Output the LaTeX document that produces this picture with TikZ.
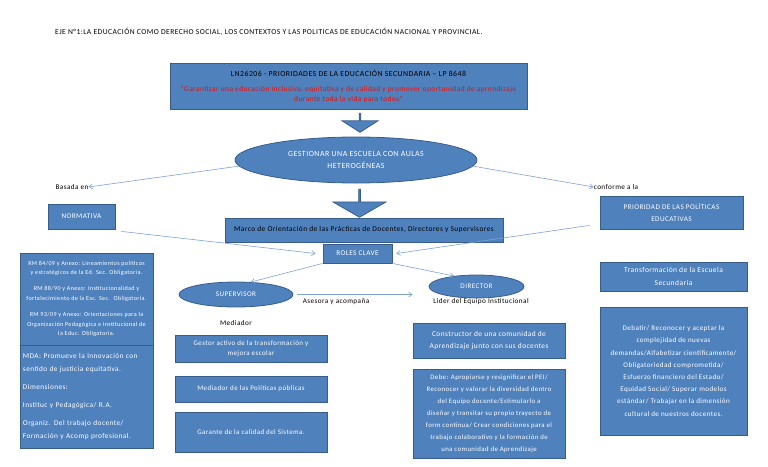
\documentclass[tikz,border=0pt]{standalone}
\usepackage{fontspec}
\setmainfont{Carlito}[LetterSpace=6]
\usetikzlibrary{shapes.geometric, shapes.arrows, arrows.meta}

\definecolor{boxblue}{HTML}{4F81BD}
\definecolor{boxedge}{HTML}{385D8A}
\definecolor{linkblue}{HTML}{7FA2D6}
\definecolor{quotered}{HTML}{E01010}

\begin{document}
\begin{tikzpicture}[x=1pt, y=-1pt,
  box/.style={rectangle, draw=boxedge, fill=boxblue, line width=0.8pt, text=white,
    align=center, inner sep=1pt, font=\fontsize{6.8}{12}\selectfont},
  oval/.style={ellipse, draw=boxedge, fill=boxblue, line width=0.8pt, text=white,
    align=center, inner sep=0pt, font=\fontsize{7.1}{12}\selectfont},
  bigarrow/.style={single arrow, shape border rotate=270, draw=boxedge, fill=boxblue,
    line width=0.8pt, inner sep=0pt},
  note/.style={font=\fontsize{7.2}{9}\selectfont, inner sep=0pt},
  link/.style={draw=linkblue, line width=0.6pt, -{Straight Barb[length=3.5pt,width=5pt]}}]
  \useasboundingbox (0,0) rectangle (768,466);

  \node[note, anchor=west, font=\fontsize{7.6}{9}\selectfont] (title) at (55,32)
    {EJE N°1:LA EDUCACIÓN COMO DERECHO SOCIAL, LOS CONTEXTOS Y LAS POLITICAS DE EDUCACIÓN NACIONAL Y PROVINCIAL.};

  \node[box, minimum width=357, minimum height=46, text=black, font=\fontsize{7.8}{10}\selectfont] (ley) at (348.5,86)
    {LN26206 - PRIORIDADES DE LA EDUCACIÓN SECUNDARIA – LP 8648\\[5pt]
     \color{quotered}\fontsize{7.4}{10}\selectfont “Garantizar una educación inclusiva, equitativa y de calidad y promover oportunidad de aprendizaje\\
     \color{quotered}\fontsize{7.4}{10}\selectfont durante toda la vida para todos”};
  \node[bigarrow, minimum width=36, minimum height=19, single arrow head extend=8.5,
    single arrow tip angle=115] (arrowA) at (360,122.5) {};
  \node[oval, minimum width=242, minimum height=46, font=\fontsize{7.9}{12}\selectfont] (gest) at (356,160)
    {GESTIONAR UNA ESCUELA CON AULAS\\HETEROGÉNEAS};
  \node[bigarrow, minimum width=53, minimum height=28, single arrow head extend=12,
    single arrow tip angle=120] (arrowB) at (359.5,203) {};

  \node[note] (basada) at (72,187) {Basada en};
  \node[note] (conforme) at (616,187) {conforme a la};
  \node[box, minimum width=67, minimum height=25, font=\fontsize{7.2}{9}\selectfont] (norm) at (81.5,216.5) {NORMATIVA};
  \node[box, minimum width=143, minimum height=33, font=\fontsize{7.2}{12}\selectfont] (prio) at (671.5,212.5)
    {PRIORIDAD DE LAS POLÍTICAS\\EDUCATIVAS};
  \node[box, minimum width=278, minimum height=24, text=black, font=\fontsize{7.4}{9}\selectfont] (marco) at (364,230)
    {Marco de Orientación de las Prácticas de Docentes, Directores y Supervisores};
  \node[box, minimum width=69, minimum height=19, font=\fontsize{7.2}{9}\selectfont] (roles) at (357.5,253.5) {ROLES CLAVE};

  \node[oval, minimum width=114, minimum height=25] (super) at (236,294.5) {SUPERVISOR};
  \node[oval, minimum width=95, minimum height=23] (dir) at (476.5,286.5) {DIRECTOR};
  \node[note] (asesora) at (336,302) {Asesora y acompaña};
  \node[note] (lider) at (481,302) {Lider del Equipo Institucional};
  \node[note] (mediador) at (236,323) {Mediador};

  \node[box, minimum width=133, minimum height=92, font=\fontsize{6.1}{9.8}\selectfont] (rm) at (86.5,299)
    {RM 84/09 y Anexo: Lineamientos políticos\\y estratégicos de la Ed. Sec. Obligatoria.\\[6pt]
     RM 88/90 y Anexo: Institucionalidad y\\fortalecimiento de la Esc. Sec.\ \ Obligatoria.\\[6pt]
     RM 93/09 y Anexo: Orientaciones para la\\Organización Pedagógica e Institucional de\\la Educ. Obligatoria.};
  \node[box, minimum width=133, minimum height=103, align=left, text width=127, font=\fontsize{7.3}{13}\selectfont] (mda) at (86.5,396.5)
    {MDA: Promueve la innovación con\\sentido de justicia equitativa.\\[5pt]
     Dimensiones:\\[5pt]
     Instituc y Pedagógica/ R.A.\\[5pt]
     Organiz. Del trabajo docente/\\Formación y Acomp profesional.};

  \node[box, minimum width=152, minimum height=27, font=\fontsize{7}{10}\selectfont] (gestor) at (251,348.5)
    {Gestor activo de la transformación y\\mejora escolar};
  \node[box, minimum width=152, minimum height=26, font=\fontsize{7}{10}\selectfont] (politicas) at (251,389)
    {Mediador de las Políticas públicas};
  \node[box, minimum width=152, minimum height=40, font=\fontsize{7}{10}\selectfont] (garante) at (251,432)
    {Garante de la calidad del Sistema.};

  \node[box, minimum width=152, minimum height=35, font=\fontsize{7.4}{12}\selectfont] (constructor) at (489,340.5)
    {Constructor de una comunidad de\\Aprendizaje junto con sus docentes};
  \node[box, minimum width=152, minimum height=89] (debe) at (489,413.5)
    {Debe: Apropiarse y resignificar el PEI/\\Reconocer y valorar la diversidad dentro\\
     del Equipo docente/Estimularlo a\\diseñar y transitar su propio trayecto de\\
     form continua/ Crear condiciones para el\\trabajo colaborativo y la formación de\\
     una comunidad de Aprendizaje};

  \node[box, minimum width=147, minimum height=29, font=\fontsize{7.5}{13}\selectfont] (transf) at (673.5,276.5)
    {Transformación de la Escuela\\Secundaria};
  \node[box, minimum width=147, minimum height=128, font=\fontsize{7.1}{12.2}\selectfont] (debatir) at (673.5,371)
    {Debatir/ Reconocer y aceptar la\\complejidad de nuevas\\demandas/Alfabetizar científicamente/\\
     Obligatoriedad comprometida/\\Esfuerzo financiero del Estado/\\Equidad Social/ Superar modelos\\
     estándar/ Trabajar en la dimensión\\cultural de nuestros docentes.};

  \draw[link] (gest.183) -- (basada.east);
  \draw[link] (gest.-3) -- (conforme.west);
  \draw[link] ([shift={(6,2)}]norm.south east) -- ([xshift=-7]roles.west);
  \draw[link] ([shift={(-10,-4)}]prio.south west) -- ([xshift=4]roles.east);
  \draw[link] (roles.south west) -- (super.40);
  \draw[link] (roles.south east) -- (dir.155);
  \draw[link] ([xshift=4]super.east) -- ([xshift=-16]super.east -| dir.west);
\end{tikzpicture}
\end{document}
